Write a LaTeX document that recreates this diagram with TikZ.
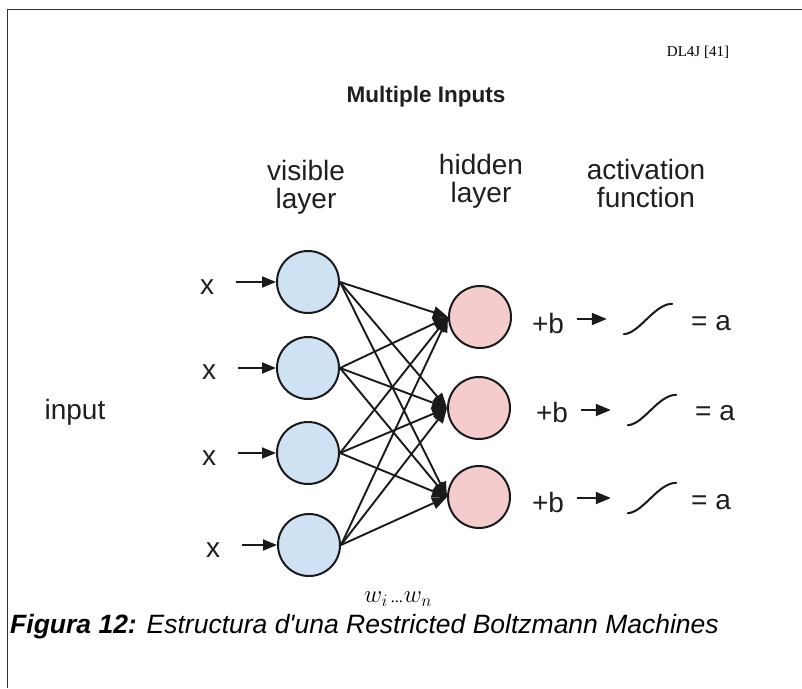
\documentclass[tikz,border=0pt]{standalone}
\usepackage{fontspec}
\setmainfont{Liberation Sans}
\newfontfamily\serifref{Liberation Serif}
\usetikzlibrary{arrows.meta,calc}
\definecolor{visfill}{HTML}{CFE2F3}
\definecolor{hidfill}{HTML}{F4CCCC}
\definecolor{rim}{HTML}{1A1A1A}
\tikzset{
  lbl/.style={font=\fontsize{28}{28}\selectfont, inner sep=1pt, align=center, text=black!88},
  visnode/.style={circle, draw=rim, line width=2pt, fill=visfill, minimum size=62pt, inner sep=0pt},
  hidnode/.style={circle, draw=rim, line width=2pt, fill=hidfill, minimum size=62pt, inner sep=0pt},
  edge/.style={line width=1.9pt, draw=rim, -{Triangle[length=15pt,width=12pt]}},
  feed/.style={line width=1.9pt, draw=rim, -{Triangle[length=14pt,width=11pt]}},
  sigbox/.style={minimum width=48pt, minimum height=30pt, inner sep=0pt},
  sigcurve/.style={line width=2pt, draw=rim, line cap=round}
}
\begin{document}
\begin{tikzpicture}[x=1pt,y=-1pt]
\useasboundingbox (0,0) rectangle (802,688);
\fill[white] (0,0) rectangle (802,688);
% open frame
\draw[line width=1pt, black!80] (7,688) -- (7,9) -- (802,9);

% headings
\node[font=\serifref\fontsize{15}{15}\selectfont] (src) at (698,52) {DL4J [41]};
\node[font=\bfseries\fontsize{22.5}{22.5}\selectfont, text=black!88] (title) at (426,97) {Multiple Inputs};
\node[lbl] (hv) at (306,187) {visible\\layer};
\node[lbl] (hh) at (481,181) {hidden\\layer};
\node[lbl] (ha) at (646,183) {activation\\function};
\node[lbl] (inp) at (75,412) {input};

% visible layer
\node[visnode] (v1) at (308,282) {};
\node[visnode] (v2) at (308,368) {};
\node[visnode] (v3) at (308,453) {};
\node[visnode] (v4) at (309,545) {};

% hidden layer
\node[hidnode] (h1) at (480,317) {};
\node[hidnode] (h2) at (479,408) {};
\node[hidnode] (h3) at (479,497) {};

% inputs
\node[lbl] (x1) at (207,287) {x};
\node[lbl] (x2) at (209,372) {x};
\node[lbl] (x3) at (209,458) {x};
\node[lbl] (x4) at (213,550) {x};
\foreach \i in {1,...,4}{
  \draw[feed, shorten <=21pt] (x\i.east |- v\i) -- (v\i.west);
}

% weights
\foreach \i in {1,...,4}{
  \foreach \j in {1,2,3}{
    \draw[edge] (v\i.east) -- (h\j.west);
  }
}
\node[font=\fontsize{23}{23}\selectfont] (w) at (398,599) {$w_i$\hspace{3pt}{\serifref\fontsize{16}{16}\selectfont...}\hspace{1pt}$w_n$};

% bias, activation, output
\node[lbl] (b1) at (548,323) {+b};
\node[lbl] (b2) at (552,412) {+b};
\node[lbl] (b3) at (548,502) {+b};
\node[sigbox] (s1) at (648,319) {};
\node[sigbox] (s2) at (652,410) {};
\node[sigbox] (s3) at (652,498) {};
\node[lbl] (a1) at (711,323) {=\hspace{8pt}a};
\node[lbl] (a2) at (715,413) {=\hspace{8pt}a};
\node[lbl] (a3) at (711,502) {=\hspace{8pt}a};
\foreach \i in {1,2,3}{
  \draw[feed, -{Triangle[length=15pt,width=12pt]}, shorten <=12pt, shorten >=17pt] (b\i.east |- s\i) -- (s\i.west);
  \draw[sigcurve] (s\i.south west) .. controls ($(s\i.south west)+(16,-1)$) and ($(s\i.north east)+(-18,0)$) .. (s\i.north east);
}

% caption
\node[anchor=west, font=\itshape\fontsize{26.5}{26.5}\selectfont, inner sep=0pt] (cap) at (10,627)
  {\textbf{Figura 12:} Estructura d\textquotesingle una Restricted Boltzmann Machines};
\end{tikzpicture}
\end{document}
